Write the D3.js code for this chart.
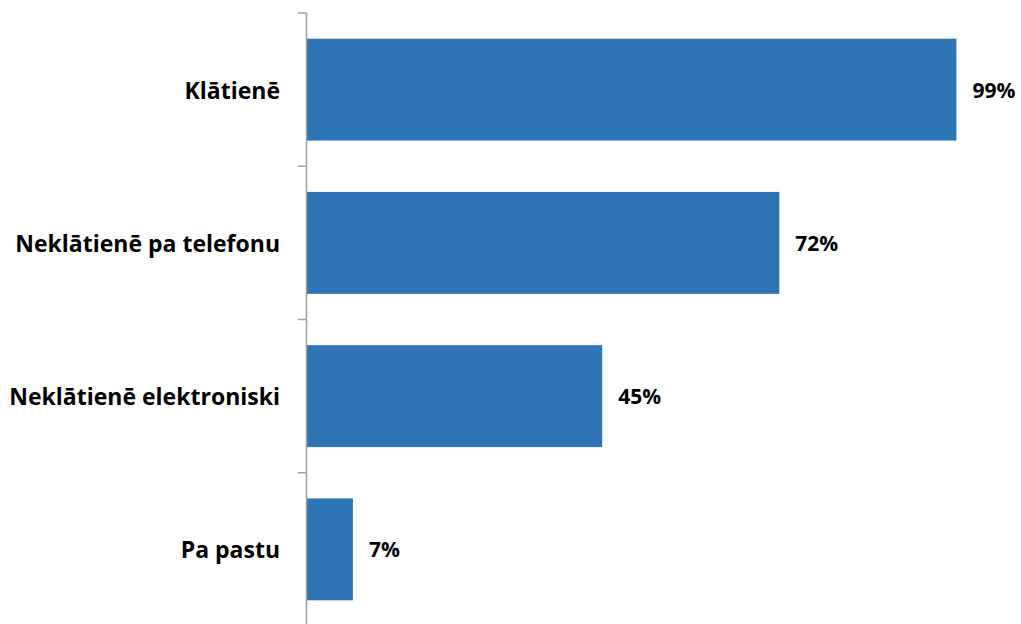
<!DOCTYPE html>
<html>
<head>
<meta charset="utf-8">
<script src="https://cdn.jsdelivr.net/npm/d3@7"></script>
<style>
  html, body { margin: 0; padding: 0; background: #ffffff; }
  svg { display: block; }
</style>
</head>
<body>
<svg id="chart" width="1021" height="624"></svg>
<script>
const categories = ["Klātienē", "Neklātienē pa telefonu", "Neklātienē elektroniski", "Pa pastu"];
const values = [99, 72, 45, 7];
const valueLabels = ["99%", "72%", "45%", "7%"];

const svg = d3.select("#chart");
const axisX = 307;

const y = d3.scaleBand()
  .domain(categories)
  .range([13, 626])
  .paddingInner(0.335)
  .paddingOuter(0.1675);

const x = d3.scaleLinear()
  .domain([0, 100])
  .range([axisX, 963]);

const font = "'Open Sans', Lato, sans-serif";

// bars
svg.append("g").selectAll("rect")
  .data(categories)
  .join("rect")
  .attr("x", x(0))
  .attr("y", d => y(d))
  .attr("width", (d, i) => x(values[i]) - x(0))
  .attr("height", y.bandwidth())
  .attr("fill", "#2e75b6");

// axis line and ticks at band boundaries
const step = y.step();
const start = y.range()[0];
const ticks = d3.range(categories.length + 1).map(i => start + i * step);
const ax = svg.append("g");
ax.append("line")
  .attr("x1", axisX - 0.5).attr("x2", axisX - 0.5)
  .attr("y1", start).attr("y2", y.range()[1])
  .attr("stroke", "#a0a0a0").attr("stroke-width", 1.5);
ax.selectAll("line.tick")
  .data(ticks)
  .join("line")
  .attr("class", "tick")
  .attr("x1", axisX - 9).attr("x2", axisX - 0.5)
  .attr("y1", d => d).attr("y2", d => d)
  .attr("stroke", "#a0a0a0").attr("stroke-width", 1.5);

// category labels
svg.append("g").selectAll("text")
  .data(categories)
  .join("text")
  .attr("x", axisX - 27)
  .attr("y", d => y(d) + y.bandwidth() / 2)
  .attr("text-anchor", "end")
  .attr("dominant-baseline", "central")
  .attr("font-family", font)
  .attr("font-weight", "bold")
  .attr("font-size", 23)
  .attr("fill", "#000")
  .text(d => d);

// value labels
svg.append("g").selectAll("text")
  .data(categories)
  .join("text")
  .attr("x", (d, i) => x(values[i]) + 16)
  .attr("y", d => y(d) + y.bandwidth() / 2)
  .attr("dominant-baseline", "central")
  .attr("font-family", font)
  .attr("font-weight", "bold")
  .attr("font-size", 21)
  .attr("fill", "#000")
  .text((d, i) => valueLabels[i]);
</script>
</body>
</html>
